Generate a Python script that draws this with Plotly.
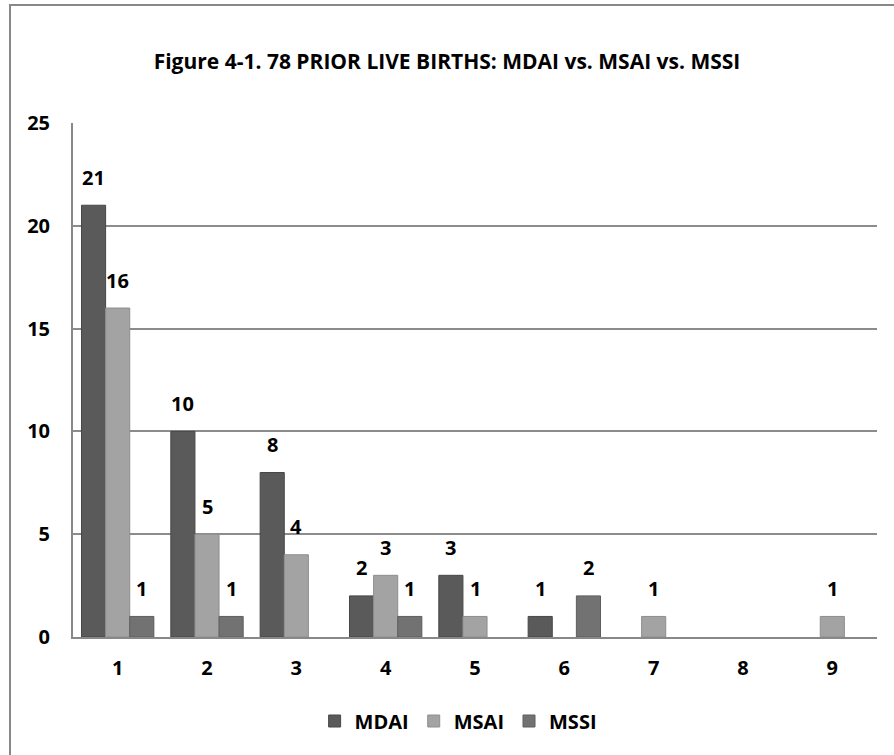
import plotly.graph_objects as go

categories = ["1", "2", "3", "4", "5", "6", "7", "8", "9"]
mdai = [21, 10, 8, 2, 3, 1, None, None, None]
msai = [16, 5, 4, 3, 1, None, 1, None, 1]
mssi = [1, 1, None, 1, None, 2, None, None, None]
series_names = ["MDAI", "MSAI", "MSSI"]
series_colors = ["#5a5a5a", "#a3a3a3", "#727272"]
line_colors = ["#474747", "#8e8e8e", "#5e5e5e"]
title_text = "Figure 4-1. 78 PRIOR LIVE BIRTHS: MDAI vs. MSAI vs. MSSI"
y_ticks = [0, 5, 10, 15, 20, 25]

FONT = "Open Sans"
W, H = 894, 755
L, R, T, B = 73, 17, 123, 118
BARGAP = 0.19
LABEL_LIFT = 28

pw = W - L - R
ph = H - T - B
slot = pw / len(categories)
bar_w = slot * (1 - BARGAP) / len(series_names)

fig = go.Figure()
all_series = [mdai, msai, mssi]
for i, (name, vals, col, lc) in enumerate(zip(series_names, all_series, series_colors, line_colors)):
    fig.add_trace(go.Bar(
        name=name, x=categories, y=vals,
        marker=dict(color=col, line=dict(color=lc, width=1)),
    ))
    for ci, v in enumerate(vals):
        if v is None:
            continue
        fig.add_annotation(
            x=ci, y=v, xref="x", yref="y", text=str(v), showarrow=False,
            xanchor="center", yanchor="middle",
            xshift=(i - 1) * bar_w, yshift=LABEL_LIFT,
            font=dict(family=FONT, size=20, color="#000000", weight="bold"),
        )

fig.add_shape(type="rect", xref="paper", yref="paper",
              x0=(10 - L) / pw, x1=(W + 5 - L) / pw,
              y0=-(H + 5 - (H - B)) / ph, y1=((H - B) - 5) / ph,
              line=dict(color="#888888", width=2), fillcolor="rgba(0,0,0,0)", layer="below")

fig.update_layout(
    width=W, height=H,
    margin=dict(l=L, r=R, t=T, b=B, autoexpand=False),
    paper_bgcolor="white", plot_bgcolor="white",
    barmode="group", bargap=BARGAP, bargroupgap=0,
    title=dict(text=title_text, x=0.5, xanchor="center", y=1 - 62 / H, yanchor="middle",
               font=dict(family=FONT, size=21, color="#000000", weight="bold")),
    font=dict(family=FONT, size=20, color="#000000"),
    showlegend=True,
    legend=dict(orientation="h", x=0.479, xanchor="center", y=-(721 - (H - B)) / ph, yanchor="middle",
                font=dict(family=FONT, size=20, color="#000000", weight="bold"),
                itemwidth=30, tracegroupgap=0, bgcolor="rgba(0,0,0,0)"),
    xaxis=dict(type="category", categoryorder="array", categoryarray=categories,
               range=[-0.5, len(categories) - 0.5],
               showline=True, linecolor="#888888", linewidth=2, ticks="", showgrid=False,
               tickfont=dict(family=FONT, size=20, color="#000000", weight="bold"),
               ticklabelstandoff=12),
    yaxis=dict(range=[0, 25], tickvals=y_ticks, showline=True, linecolor="#888888", linewidth=2,
               showgrid=True, gridcolor="#8c8c8c", gridwidth=1.5, zeroline=False, ticks="",
               tickfont=dict(family=FONT, size=20, color="#000000", weight="bold"),
               ticklabelstandoff=17),
)

fig.write_html("out.html")
